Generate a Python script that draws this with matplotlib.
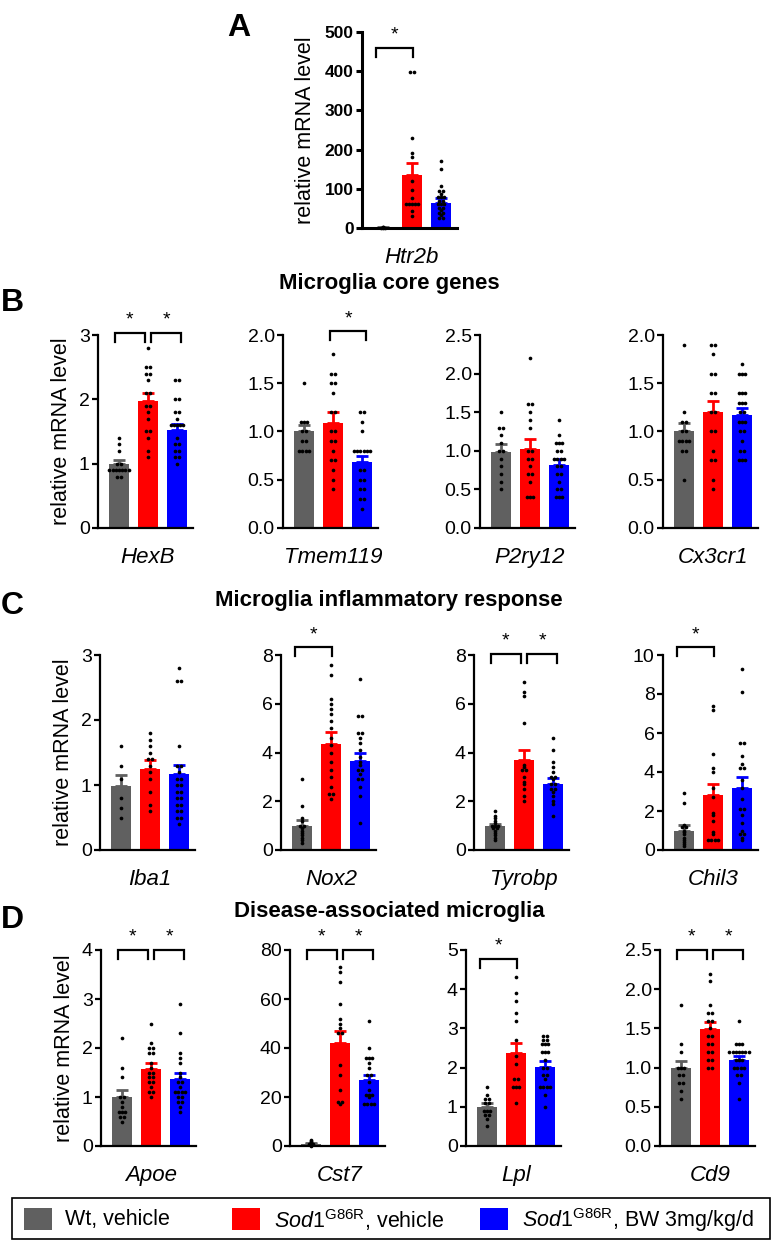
import numpy as np
import matplotlib
matplotlib.use('Agg')
import matplotlib.pyplot as plt
from matplotlib.patches import Rectangle
from matplotlib.transforms import blended_transform_factory

plt.rcParams['font.family'] = 'Liberation Sans'
plt.rcParams['mathtext.fontset'] = 'custom'
plt.rcParams['mathtext.rm'] = 'Liberation Sans'
plt.rcParams['mathtext.it'] = 'Liberation Sans:italic'
plt.rcParams['mathtext.bf'] = 'Liberation Sans:bold'

# Groups
group_labels = ['Wt, vehicle',
                r'$\mathit{Sod1}^{\mathrm{G86R}}$, vehicle',
                r'$\mathit{Sod1}^{\mathrm{G86R}}$, BW 3mg/kg/d']
colors = ['#606060', '#ff0000', '#0000ff']

# ---- Data (mean, SEM, individual animals: [Wt, Sod1 vehicle, Sod1 BW]) ----
htr2b_mean = [1.2, 136, 65]
htr2b_sem = [0.3, 31, 12]
htr2b_dots = [[0.5, 1.0, 1.0, 1.5, 2.0],
              [398, 398, 230, 191, 182, 120, 96, 76, 62, 62, 62, 62, 62, 43, 30],
              [172, 150, 106, 94, 94, 87, 78, 78, 78, 70, 70, 61, 61, 61, 52, 52, 46, 39, 39, 32, 26, 26]]

hexb_mean = [0.99, 1.97, 1.52]
hexb_sem = [0.07, 0.13, 0.10]
hexb_dots = [[1.4, 1.3, 1.2, 1.0, 1.0, 0.9, 0.9, 0.9, 0.9, 0.9, 0.9, 0.9, 0.8, 0.8],
             [2.8, 2.5, 2.5, 2.4, 2.4, 2.3, 2.1, 2.1, 1.9, 1.9, 1.8, 1.7, 1.5, 1.5, 1.4, 1.2, 1.1],
             [2.3, 2.3, 2.0, 2.0, 1.8, 1.8, 1.7, 1.6, 1.6, 1.6, 1.6, 1.6, 1.4, 1.3, 1.3, 1.2, 1.2, 1.1, 1.1, 1.0]]

tmem119_mean = [1.0, 1.09, 0.68]
tmem119_sem = [0.07, 0.11, 0.07]
tmem119_dots = [[1.5, 1.1, 1.1, 1.1, 1.0, 1.0, 0.9, 0.9, 0.8, 0.8, 0.8, 0.8],
                [1.8, 1.6, 1.6, 1.5, 1.5, 1.4, 1.2, 1.2, 1.0, 1.0, 0.9, 0.9, 0.8, 0.7, 0.7, 0.6, 0.5, 0.4],
                [1.2, 1.2, 1.1, 1.0, 0.8, 0.8, 0.8, 0.8, 0.8, 0.8, 0.6, 0.6, 0.5, 0.5, 0.4, 0.4, 0.3, 0.3, 0.2]]

p2ry12_mean = [0.99, 1.02, 0.82]
p2ry12_sem = [0.10, 0.13, 0.07]
p2ry12_dots = [[1.5, 1.3, 1.3, 1.2, 1.1, 1.0, 1.0, 0.9, 0.8, 0.7, 0.6, 0.5],
               [2.2, 1.6, 1.6, 1.5, 1.4, 1.3, 1.0, 1.0, 0.9, 0.9, 0.8, 0.7, 0.7, 0.6, 0.4, 0.4, 0.4],
               [1.4, 1.2, 1.1, 1.1, 1.1, 1.0, 1.0, 0.9, 0.9, 0.9, 0.9, 0.8, 0.8, 0.7, 0.7, 0.6, 0.5, 0.5, 0.4, 0.4, 0.4]]

cx3cr1_mean = [1.0, 1.2, 1.17]
cx3cr1_sem = [0.09, 0.12, 0.07]
cx3cr1_dots = [[1.9, 1.2, 1.1, 1.1, 1.0, 1.0, 0.9, 0.9, 0.9, 0.9, 0.8, 0.8, 0.5],
               [1.9, 1.9, 1.8, 1.6, 1.6, 1.4, 1.4, 1.2, 1.2, 1.0, 1.0, 0.8, 0.7, 0.7, 0.5, 0.4],
               [1.7, 1.6, 1.6, 1.6, 1.4, 1.4, 1.4, 1.3, 1.3, 1.3, 1.2, 1.2, 1.1, 1.1, 1.1, 1.0, 1.0, 0.9, 0.8, 0.8, 0.7, 0.7, 0.7]]

iba1_mean = [0.98, 1.25, 1.17]
iba1_sem = [0.17, 0.13, 0.14]
iba1_dots = [[1.6, 1.3, 1.1, 0.8, 0.65, 0.5],
             [1.8, 1.7, 1.6, 1.5, 1.4, 1.4, 1.3, 1.2, 1.1, 0.9, 0.7, 0.6],
             [2.8, 2.6, 2.6, 1.6, 1.3, 1.3, 1.2, 1.1, 1.1, 1.0, 1.0, 0.9, 0.9, 0.8, 0.8, 0.7, 0.7, 0.6, 0.6, 0.5, 0.5, 0.4]]

nox2_mean = [1.0, 4.33, 3.64]
nox2_sem = [0.24, 0.5, 0.35]
nox2_dots = [[2.9, 1.8, 1.3, 1.2, 1.0, 1.0, 0.9, 0.8, 0.7, 0.6, 0.5, 0.4, 0.3],
             [7.6, 7.2, 6.2, 6.0, 5.8, 5.6, 5.3, 5.0, 4.6, 4.3, 4.0, 3.6, 3.3, 3.0, 2.6, 2.3, 2.3, 2.1],
             [7.0, 5.5, 5.5, 4.8, 4.8, 4.6, 4.4, 4.1, 3.8, 3.6, 3.5, 3.3, 3.3, 3.1, 2.9, 2.9, 2.6, 2.2, 1.1]]

tyrobp_mean = [1.0, 3.69, 2.69]
tyrobp_sem = [0.08, 0.4, 0.27]
tyrobp_dots = [[1.6, 1.4, 1.3, 1.2, 1.1, 1.0, 1.0, 1.0, 0.9, 0.9, 0.8, 0.7, 0.6, 0.5, 0.4],
               [6.9, 6.5, 6.3, 5.2, 3.5, 3.4, 3.3, 3.3, 3.0, 2.8, 2.7, 2.5, 2.2, 2.0],
               [4.6, 4.1, 3.6, 3.4, 3.2, 3.0, 3.0, 2.9, 2.7, 2.7, 2.5, 2.5, 2.4, 2.2, 2.0, 1.9, 1.4]]

chil3_mean = [1.0, 2.81, 3.2]
chil3_sem = [0.26, 0.56, 0.55]
chil3_dots = [[2.9, 2.4, 1.3, 1.2, 1.2, 1.0, 0.9, 0.8, 0.6, 0.5, 0.4, 0.3, 0.2],
              [7.4, 7.2, 4.9, 4.2, 4.0, 3.2, 2.7, 1.9, 1.8, 1.5, 0.9, 0.8, 0.5, 0.5, 0.5, 0.5],
              [9.3, 8.1, 5.5, 5.5, 4.8, 4.4, 4.2, 4.2, 3.6, 3.2, 2.6, 2.1, 2.1, 1.8, 1.4, 1.0, 0.8, 0.8, 0.6, 0.5]]

apoe_mean = [0.99, 1.58, 1.36]
apoe_sem = [0.15, 0.12, 0.13]
apoe_dots = [[2.2, 1.6, 1.4, 1.0, 1.0, 0.9, 0.8, 0.7, 0.7, 0.7, 0.6, 0.6, 0.5],
             [2.5, 2.1, 2.0, 2.0, 1.9, 1.9, 1.7, 1.6, 1.5, 1.5, 1.4, 1.4, 1.3, 1.3, 1.2, 1.1, 1.1, 1.0],
             [2.9, 2.3, 1.9, 1.8, 1.7, 1.5, 1.4, 1.3, 1.3, 1.2, 1.1, 1.1, 1.1, 1.1, 1.0, 1.0, 0.9, 0.9, 0.8, 0.7]]

cst7_mean = [1.0, 41.9, 26.9]
cst7_sem = [0.3, 5.2, 2.2]
cst7_dots = [[2.5, 2.0, 1.5, 1.2, 1.0, 1.0, 0.8, 0.6, 0.5, 0.4, 0.3, 0.2],
             [73, 71, 67, 58, 52, 50, 48, 46, 46, 33, 29, 23, 18, 18, 17],
             [51, 40, 36, 36, 36, 34, 32, 29, 29, 26, 23, 21, 21, 21, 20, 17, 17, 17, 17]]

lpl_mean = [1.0, 2.37, 2.02]
lpl_sem = [0.1, 0.26, 0.14]
lpl_dots = [[1.5, 1.3, 1.2, 1.2, 1.1, 1.1, 0.9, 0.9, 0.9, 0.8, 0.8, 0.7, 0.5],
            [4.3, 3.9, 3.7, 3.4, 3.2, 2.7, 2.3, 2.1, 1.7, 1.7, 1.5, 1.5, 1.5, 1.1],
            [2.8, 2.8, 2.7, 2.7, 2.6, 2.6, 2.6, 2.4, 2.4, 2.4, 2.2, 2.0, 2.0, 1.8, 1.8, 1.7, 1.5, 1.5, 1.5, 1.5, 1.3, 1.0]]

cd9_mean = [0.99, 1.49, 1.1]
cd9_sem = [0.1, 0.09, 0.05]
cd9_dots = [[1.8, 1.3, 1.2, 1.0, 1.0, 1.0, 0.9, 0.9, 0.8, 0.8, 0.7, 0.6],
            [2.2, 2.1, 1.8, 1.7, 1.7, 1.6, 1.6, 1.5, 1.4, 1.4, 1.3, 1.3, 1.2, 1.2, 1.1, 1.1, 1.0, 1.0],
            [1.6, 1.3, 1.3, 1.3, 1.2, 1.2, 1.2, 1.2, 1.2, 1.2, 1.2, 1.1, 1.1, 1.1, 1.0, 1.0, 1.0, 1.0, 0.9, 0.9, 0.8, 0.6]]

# ---- Figure layout (pixel positions of the original figure) ----
W, H = 778, 1241
fig = plt.figure(figsize=(W / 100, H / 100), dpi=100)


def px_axes(left, top, right, bottom):
    return fig.add_axes([left / W, 1 - bottom / H, (right - left) / W, (bottom - top) / H])


def spread(vals, center, step=0.11):
    xs, ys = [], []
    for v in sorted(set(vals)):
        n = vals.count(v)
        offs = (np.arange(n) - (n - 1) / 2) * step
        xs.extend(center + offs)
        ys.extend([v] * n)
    return xs, ys


def draw(ax, gene, mean, sem, dots, ymax, step, sig, br_y, bold=False, ylabel=False):
    x = np.arange(3)
    ax.bar(x, mean, width=0.67, color=colors, zorder=1)
    for i in range(3):
        ax.errorbar(x[i], mean[i], yerr=[[0], [sem[i]]], fmt='none', ecolor=colors[i],
                    elinewidth=2, capsize=4.5, capthick=2, zorder=2, clip_on=False)
        xs, ys = spread(dots[i], x[i])
        ax.scatter(xs, ys, s=7, color='black', linewidths=0, zorder=3, clip_on=False)
    ax.set_xlim(-0.72, 2.55)
    ax.set_ylim(0, ymax)
    ticks = np.arange(0, ymax + step / 2, step)
    ax.set_yticks(ticks)
    if step < 1:
        ax.set_yticklabels([f'{t:.1f}' for t in ticks])
    else:
        ax.set_yticklabels([f'{t:.0f}' for t in ticks])
    ax.set_xticks([])
    for s in ['top', 'right']:
        ax.spines[s].set_visible(False)
    lw = 2.2 if bold else 1.6
    for s in ['left', 'bottom']:
        ax.spines[s].set_linewidth(lw)
    ax.tick_params(axis='y', direction='out', length=4.5, width=lw, labelsize=14, pad=1.5)
    if bold:
        for t in ax.get_yticklabels():
            t.set_fontweight('bold')
            t.set_fontsize(12.5)
    ax.annotate(gene, xy=(1, 0), xycoords=('data', 'axes fraction'), xytext=(0, -21),
                textcoords='offset points', ha='center', va='center', fontsize=16, style='italic')
    if ylabel:
        ax.set_ylabel('relative mRNA level', fontsize=15.5)
        ax.yaxis.set_label_coords(-0.48 if bold else -0.27, 0.5)
    # significance brackets
    tr = blended_transform_factory(ax.transData, ax.transAxes)
    for (a, b) in sig:
        if len(sig) == 2:
            x0, x1 = (-0.15, 0.9) if a == 0 else (1.1, 2.15)
        else:
            x0, x1 = a - 0.25, b + 0.05 if b == 1 else b + 0.15
            if a == 1:
                x0 = 0.9
        leg = 0.045
        ax.plot([x0, x0, x1, x1], [br_y - leg, br_y, br_y, br_y - leg], color='black',
                lw=1.6, transform=tr, clip_on=False, solid_joinstyle='miter')
        ax.annotate('*', xy=((x0 + x1) / 2, br_y), xycoords=tr, xytext=(0, 3),
                    textcoords='offset points', ha='center', va='bottom', fontsize=14)


# Panel A
axA = px_axes(362, 32, 457, 228)
draw(axA, 'Htr2b', htr2b_mean, htr2b_sem, htr2b_dots, 500, 100, [(0, 1)], 0.92, bold=True, ylabel=True)

rows = [
    (335, 528, [98, 283, 480, 663], [
        ('HexB', hexb_mean, hexb_sem, hexb_dots, 3, 1, [(0, 1), (1, 2)], 1.01),
        ('Tmem119', tmem119_mean, tmem119_sem, tmem119_dots, 2.0, 0.5, [(1, 2)], 1.02),
        ('P2ry12', p2ry12_mean, p2ry12_sem, p2ry12_dots, 2.5, 0.5, [], 1.0),
        ('Cx3cr1', cx3cr1_mean, cx3cr1_sem, cx3cr1_dots, 2.0, 0.5, [], 1.0)]),
    (655, 850, [100, 281, 474, 663], [
        ('Iba1', iba1_mean, iba1_sem, iba1_dots, 3, 1, [], 1.0),
        ('Nox2', nox2_mean, nox2_sem, nox2_dots, 8, 2, [(0, 1)], 1.04),
        ('Tyrobp', tyrobp_mean, tyrobp_sem, tyrobp_dots, 8, 2, [(0, 1), (1, 2)], 1.005),
        ('Chil3', chil3_mean, chil3_sem, chil3_dots, 10, 2, [(0, 1)], 1.04)]),
    (950, 1146, [101, 290, 466, 660], [
        ('Apoe', apoe_mean, apoe_sem, apoe_dots, 4, 1, [(0, 1), (1, 2)], 1.0),
        ('Cst7', cst7_mean, cst7_sem, cst7_dots, 80, 20, [(0, 1), (1, 2)], 1.0),
        ('Lpl', lpl_mean, lpl_sem, lpl_dots, 5, 1, [(0, 1)], 0.955),
        ('Cd9', cd9_mean, cd9_sem, cd9_dots, 2.5, 0.5, [(0, 1), (1, 2)], 1.0)]),
]

for top, bottom, lefts, panels in rows:
    for j, (left, p) in enumerate(zip(lefts, panels)):
        ax = px_axes(left, top, left + 95, bottom)
        gene, mean, sem, dots, ymax, step, sig, br_y = p
        draw(ax, gene, mean, sem, dots, ymax, step, sig, br_y, ylabel=(j == 0))

# Section titles and panel letters
for txt, y in [('Microglia core genes', 284), ('Microglia inflammatory response', 601),
               ('Disease-associated microglia', 911)]:
    fig.text(389 / W, 1 - y / H, txt, ha='center', va='center', fontsize=16, fontweight='bold')
for letter, x, y in [('A', 227, 28), ('B', 1, 303), ('C', 1, 606), ('D', 1, 920)]:
    fig.text(x / W, 1 - y / H, letter, ha='left', va='center', fontsize=23, fontweight='bold')

# Legend box
fig.add_artist(Rectangle((12 / W, 1 - 1239 / H), 758 / W, 41 / H, transform=fig.transFigure,
                         fill=False, edgecolor='black', lw=1.2))
for (sq_x, tx_x), lab, col in zip([(24, 65), (232, 274), (480, 522)], group_labels, colors):
    fig.add_artist(Rectangle((sq_x / W, 1 - 1230 / H), 28 / W, 22 / H, transform=fig.transFigure,
                             facecolor=col, edgecolor='none'))
    fig.text(tx_x / W, 1 - 1220 / H, lab, ha='left', va='center', fontsize=15.5)

fig.savefig('out.png', dpi=100)
